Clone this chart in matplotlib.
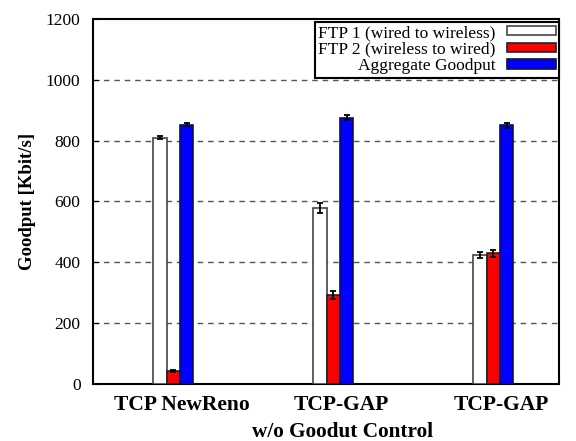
import numpy as np
import matplotlib
matplotlib.use('Agg')
import matplotlib.pyplot as plt

plt.rcParams['font.family'] = ['Liberation Serif', 'DejaVu Serif']

# goodput per scenario, Kbit/s
groups = ['TCP NewReno', 'TCP-GAP', 'TCP-GAP']
ftp1 = [810, 578, 424]
ftp1_err = [4, 17, 11]
ftp2 = [42, 294, 430]
ftp2_err = [4, 13, 12]
aggregate = [853, 876, 850]
aggregate_err = [4, 7, 8]
series_names = ['FTP 1 (wired to wireless)', 'FTP 2 (wireless to wired)', 'Aggregate Goodput']

fig = plt.figure(figsize=(5.76, 4.41), dpi=100)
ax = fig.add_axes([0.1615, 0.1293, 0.809, 0.8277])

x = np.arange(len(groups))
w = 1.0 / 12
err_kw = dict(ecolor='black', elinewidth=1.3, capsize=2.5, capthick=1.3)
ax.bar(x - w, ftp1, w, yerr=ftp1_err, color='white', edgecolor='#444444', linewidth=1.2,
       label=series_names[0], error_kw=err_kw, zorder=3)
ax.bar(x, ftp2, w, yerr=ftp2_err, color='#ff0000', edgecolor='#222222', linewidth=1.2,
       label=series_names[1], error_kw=err_kw, zorder=3)
ax.bar(x + w, aggregate, w, yerr=aggregate_err, color='#0000ff', edgecolor='#111144', linewidth=1.2,
       label=series_names[2], error_kw=err_kw, zorder=3)

ax.set_xlim(-0.503, 2.41)
ax.set_ylim(0, 1200)
ax.set_yticks(range(0, 1201, 200))
ax.set_xticks(x + 0.05)
ax.set_xticklabels(groups, fontsize=15.5, fontweight='bold')
ax.tick_params(axis='x', length=0, pad=8)
ax.tick_params(axis='y', direction='in', length=4, labelsize=12.5, pad=9)

for yv in range(200, 1200, 200):
    ax.axhline(yv, color='#555555', linestyle=(0, (4, 3.5)), linewidth=1.0, zorder=1)

for s in ax.spines.values():
    s.set_linewidth(1.5)

ax.set_ylabel('Goodput [Kbit/s]', fontsize=13.5, fontweight='bold')
ax.yaxis.set_label_coords(-0.123, 0.5)
ax.set_xlabel('w/o Goodut Control', fontsize=15.3, fontweight='bold')
ax.xaxis.set_label_coords(0.5365, -0.104)

leg = ax.legend(loc='upper right', bbox_to_anchor=(1.0, 0.993), borderaxespad=0,
                markerfirst=False, fancybox=False, framealpha=1, edgecolor='black',
                fontsize=12.5, labelspacing=0.03, handlelength=2.8, handleheight=0.45,
                handletextpad=0.65, borderpad=0.2)
leg.get_frame().set_linewidth(1.5)
for col in leg._legend_handle_box.get_children():
    col.align = 'right'

fig.savefig('out.png', dpi=100)
